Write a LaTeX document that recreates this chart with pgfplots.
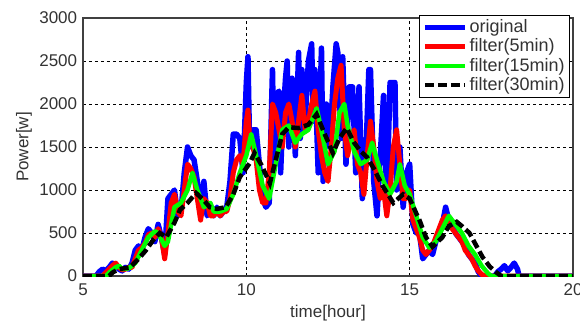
\documentclass[border=0pt]{standalone}
\usepackage{pgfplots}
\pgfplotsset{compat=1.18}
\usepackage{fontspec}
\setmainfont{Liberation Sans}
\begin{document}
\fontsize{17}{20}\selectfont
\begin{tikzpicture}
\begin{axis}[
  scale only axis, width=490pt, height=258pt,
  xmin=5, xmax=20, ymin=0, ymax=3000,
  xtick={5,10,15,20}, ytick={0,500,1000,1500,2000,2500,3000},
  major tick length=0pt,
  grid=major,
  major grid style={black, line width=0.9pt, dash pattern=on 3pt off 3pt},
  axis line style={black!75, line width=1.3pt},
  /pgf/number format/assume math mode=true,
  /pgf/number format/1000 sep={},
  tick label style={text=black!80},
  xlabel={time[hour]}, ylabel={Power[w]},
  label style={text=black!80},
  xlabel style={yshift=2pt},
  ylabel style={yshift=-4pt},
  xticklabel style={yshift=-2pt},
  legend cell align=left,
  legend style={at={(0.686,1.012)}, anchor=north west, draw=black, line width=0.8pt,
    font=\fontsize{18}{21}\selectfont, text=black!80, row sep=-0.5pt, inner sep=2.5pt},
  legend image code/.code={\draw[#1] (0pt,0pt) -- (40pt,0pt);},
]
\addplot[blue, line width=5.5pt, line join=round] coordinates {
(5.0,0)(5.4,0)(5.5,50)(5.6,80)(5.7,60)(5.8,100)(5.9,150)(6.0,120)(6.1,80)(6.2,60)(6.3,100)(6.4,80)(6.5,150)(6.6,300)(6.7,350)(6.8,300)(6.9,450)(7.0,550)(7.1,500)(7.2,400)(7.3,600)(7.4,450)(7.5,250)(7.6,900)(7.7,950)(7.8,1000)(7.9,700)(8.0,750)(8.1,1200)(8.2,1500)(8.3,1400)(8.4,1350)(8.5,1100)(8.6,800)(8.7,1100)(8.8,700)(8.9,750)(9.0,700)(9.1,800)(9.2,700)(9.3,750)(9.4,800)(9.5,1100)(9.6,1650)(9.7,1650)(9.8,1600)(9.9,1200)(10.0,2250)(10.05,2550)(10.1,1500)(10.2,1700)(10.3,1700)(10.4,1300)(10.5,900)(10.6,800)(10.7,850)
(10.8,2400)(10.85,1300)(10.9,2100)(11.0,2150)(11.05,1200)(11.1,1700)(11.2,2300)(11.25,2500)(11.3,1500)(11.4,2300)(11.5,1400)(11.6,2600)(11.65,1600)(11.7,2400)(11.8,1800)(11.9,2500)(12.0,2700)(12.05,1800)(12.1,2400)(12.2,1200)(12.3,2650)(12.35,1100)(12.45,2000)(12.55,1500)(12.65,2200)(12.75,2700)(12.8,2600)(12.9,1600)(12.95,2550)(13.05,1300)(13.15,2200)(13.25,2200)(13.35,1200)(13.45,2200)(13.55,900)(13.65,1300)(13.75,2400)(13.8,2400)(13.9,1100)(14.0,700)(14.1,1400)(14.2,2100)(14.3,900)(14.4,2250)(14.45,2250)(14.55,2250)(14.6,1000)(14.7,1500)(14.8,800)(14.9,1200)(15.0,1300)
(15.1,600)(15.2,500)(15.3,500)(15.4,200)(15.5,250)(15.6,300)(15.7,250)(15.8,400)(15.9,500)(16.0,600)(16.1,800)(16.2,650)(16.3,600)(16.4,500)(16.5,450)(16.6,400)(16.7,350)(16.8,250)(16.9,200)(17.0,150)(17.1,50)(17.2,0)(17.6,0)(17.7,50)(17.8,80)(17.9,120)(18.0,60)(18.1,100)(18.2,150)(18.3,80)(18.35,0)(20,0)};
\addlegendentry{original}
\addplot[red, line width=5pt, line join=round] coordinates {
(5.0,0)(5.6,0)(5.7,40)(5.8,80)(5.9,120)(6.0,150)(6.1,100)(6.2,70)(6.3,80)(6.4,100)(6.5,100)(6.6,200)(6.7,300)(6.8,330)(6.9,380)(7.0,480)(7.1,500)(7.2,450)(7.3,550)(7.4,450)(7.5,200)(7.6,500)(7.7,850)(7.8,950)(7.9,750)(8.0,700)(8.1,1000)(8.2,1300)(8.3,1250)(8.4,1150)(8.5,900)(8.6,650)(8.7,900)(8.8,850)(8.9,700)(9.0,700)(9.1,750)(9.2,700)(9.3,750)(9.4,750)(9.5,900)(9.6,1200)(9.7,1350)(9.8,1400)(9.9,1300)(10.0,1800)(10.05,1930)(10.1,1600)(10.2,1500)(10.3,1350)(10.4,1000)(10.5,850)(10.6,850)(10.7,1200)(10.8,2000)(10.9,1900)(11.0,1700)(11.1,1500)(11.2,1900)(11.3,2000)(11.4,1800)(11.5,1500)(11.6,1800)(11.7,2100)(11.8,1700)(11.9,1800)(12.0,2000)(12.1,2150)(12.2,1700)(12.3,1400)(12.4,1200)(12.5,1100)(12.6,1500)(12.7,2000)(12.8,2300)(12.9,2450)(13.0,1700)(13.1,1400)(13.2,1600)(13.3,1700)(13.4,1300)(13.5,1200)(13.6,950)(13.7,1400)(13.8,1800)(13.9,1500)(14.0,1100)(14.1,900)(14.2,1000)(14.3,700)(14.4,1000)(14.5,1500)(14.6,1700)(14.7,1300)(14.8,900)(14.9,900)(15.0,1000)(15.1,650)(15.2,550)(15.3,450)(15.4,300)(15.5,250)(15.6,300)(15.7,350)(15.8,450)(15.9,550)(16.0,650)(16.1,700)(16.2,600)(16.3,550)(16.4,500)(16.5,450)(16.6,400)(16.7,300)(16.8,250)(16.9,200)(17.0,120)(17.1,60)(17.2,20)(17.3,0)(20,0)};
\addlegendentry{filter(5min)}
\addplot[green, line width=4.5pt, line join=round] coordinates {
(5.0,0)(5.7,0)(5.8,40)(6.0,100)(6.1,120)(6.2,80)(6.4,90)(6.6,150)(6.8,300)(7.0,450)(7.2,520)(7.3,500)(7.5,350)(7.6,400)(7.8,800)(8.0,850)(8.2,1000)(8.35,1200)(8.5,1000)(8.7,800)(8.9,850)(9.0,750)(9.2,750)(9.4,780)(9.6,950)(9.8,1200)(10.0,1400)(10.15,1650)(10.3,1400)(10.5,1050)(10.7,900)(10.9,1300)(11.1,1700)(11.3,1750)(11.5,1550)(11.7,1650)(11.9,1700)(12.0,1800)(12.15,1950)(12.3,1700)(12.5,1300)(12.7,1450)(12.85,1900)(13.0,2000)(13.1,1750)(13.3,1450)(13.5,1300)(13.7,1350)(13.85,1550)(14.0,1350)(14.2,1100)(14.4,950)(14.6,1100)(14.7,1300)(14.85,1050)(15.0,950)(15.2,700)(15.4,450)(15.6,330)(15.8,400)(16.0,550)(16.2,700)(16.4,600)(16.6,500)(16.8,350)(17.0,250)(17.2,120)(17.4,30)(17.5,0)(20,0)};
\addlegendentry{filter(15min)}
\addplot[black, line width=4.5pt, dash pattern=on 9pt off 4pt] coordinates {
(5.0,0)(5.8,0)(5.92,45)(6.1,80)(6.44,100)(6.7,200)(6.93,300)(7.15,420)(7.35,500)(7.55,450)(7.8,620)(7.97,770)(8.2,850)(8.46,965)(8.7,880)(8.88,800)(9.1,780)(9.37,800)(9.6,950)(9.8,1150)(10.1,1310)(10.25,1430)(10.45,1300)(10.72,1080)(10.9,1350)(11.1,1650)(11.3,1730)(11.6,1720)(11.9,1760)(12.15,1880)(12.4,1650)(12.65,1430)(12.85,1600)(13.07,1720)(13.3,1550)(13.5,1450)(13.7,1380)(13.9,1250)(14.17,1050)(14.5,850)(14.8,950)(15.0,900)(15.2,730)(15.3,650)(15.5,450)(15.7,340)(16.0,450)(16.2,580)(16.44,630)(16.6,580)(16.83,500)(17.0,380)(17.23,220)(17.45,110)(17.66,40)(17.8,0)(20,0)};
\addlegendentry{filter(30min)}
\end{axis}
\pgfresetboundingbox
\path (current axis.south west) ++(-83pt,-46pt) rectangle ++(580pt,322pt);
\end{tikzpicture}
\end{document}
